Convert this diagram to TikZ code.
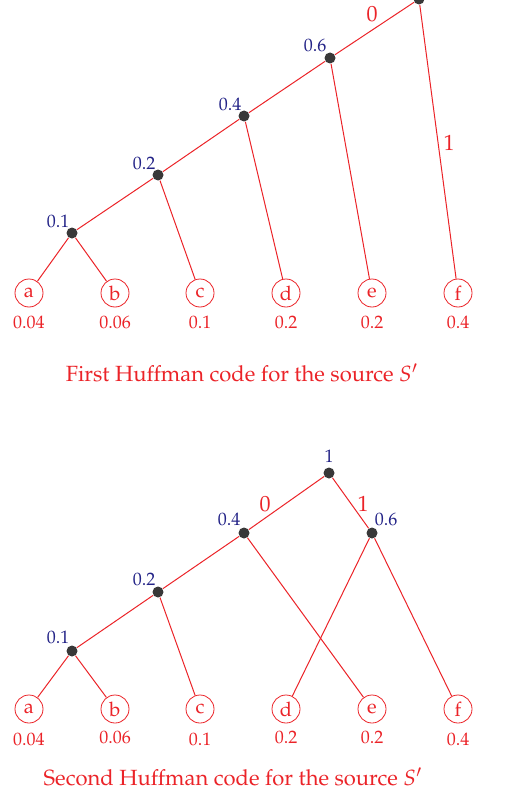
\documentclass[tikz,border=0pt]{standalone}
\usepackage[T1]{fontenc}
\usepackage{mathpazo}
\definecolor{edgered}{RGB}{235,35,40}
\definecolor{wtblue}{RGB}{35,35,135}
\tikzset{
  leaf/.style={circle, draw=edgered, text=edgered, inner sep=0pt, minimum size=14pt},
  dot/.style={circle, fill=black!78, inner sep=0pt, minimum size=5.5pt},
  prob/.style={text=edgered, font=\small},
  wt/.style={text=wtblue, font=\small},
  bit/.style={text=edgered, font=\fontsize{11}{13}\selectfont},
  edge/.style={edgered, line width=0.5pt},
  capt/.style={text=edgered, font=\fontsize{11}{13}\selectfont}
}
\begin{document}
\begin{tikzpicture}[x=0.5pt,y=-0.5pt]
  \useasboundingbox (0,0) rectangle (527,808);
  % First tree
  \begin{scope}[shift={(0,0)}]
    \node[leaf] (a1) at (29,293) {a};
    \node[leaf] (b1) at (115,293) {b};
    \node[leaf] (c1) at (200,293) {c};
    \node[leaf] (d1) at (286,293) {d};
    \node[leaf] (e1) at (372,293) {e};
    \node[leaf] (f1) at (458,293) {f};
    \node[prob] (pa1) at (29,322) {0.04};
    \node[prob] (pb1) at (115,322) {0.06};
    \node[prob] (pc1) at (200,322) {0.1};
    \node[prob] (pd1) at (286,322) {0.2};
    \node[prob] (pe1) at (372,322) {0.2};
    \node[prob] (pf1) at (458,322) {0.4};
    \node[dot] (ab1) at (72,233) {};
    \node[dot] (abc1) at (158,175) {};
    \node[dot] (abcd1) at (244,116) {};
    \node[dot] (abcde1) at (330,58) {};
    \node[dot] (root1) at (419,-1) {};
    \draw[edge] (ab1) -- (a1);
    \draw[edge] (ab1) -- (b1);
    \draw[edge] (abc1) -- (c1);
    \draw[edge] (abcd1) -- (d1);
    \draw[edge] (abcde1) -- (e1);
    \draw[edge] (root1) -- (f1);
    \draw[edge] (ab1) -- (abc1) -- (abcd1) -- (abcde1) -- (root1);
    \node[wt] (w11) at (58,221) {0.1};
    \node[wt] (w12) at (144,163) {0.2};
    \node[wt] (w13) at (230,104) {0.4};
    \node[wt] (w14) at (315,45) {0.6};
    \node[bit] (z1) at (372,14) {0};
    \node[bit] (o1) at (449,143) {1};
    % Label below
    \node[capt] (cap1) at (242,373) {First Huffman code for the source $S'$};
  \end{scope}
  % Second tree
  \begin{scope}[shift={(0,417)}]
    \node[leaf] (a2) at (29,292) {a};
    \node[leaf] (b2) at (115,292) {b};
    \node[leaf] (c2) at (200,292) {c};
    \node[leaf] (d2) at (286,292) {d};
    \node[leaf] (e2) at (372,292) {e};
    \node[leaf] (f2) at (458,292) {f};
    \node[prob] (pa2) at (29,322) {0.04};
    \node[prob] (pb2) at (115,320) {0.06};
    \node[prob] (pc2) at (200,322) {0.1};
    \node[prob] (pd2) at (286,320) {0.2};
    \node[prob] (pe2) at (372,320) {0.2};
    \node[prob] (pf2) at (458,322) {0.4};
    \node[dot] (ab2) at (72,234) {};
    \node[dot] (abc2) at (158,175) {};
    \node[dot] (abce2) at (244,116) {};
    \node[dot] (df2) at (372,116) {};
    \node[dot] (root2) at (329,56) {};
    \draw[edge] (ab2) -- (a2);
    \draw[edge] (ab2) -- (b2);
    \draw[edge] (abc2) -- (c2);
    \draw[edge] (abce2) -- (e2);
    \draw[edge] (df2) -- (d2);
    \draw[edge] (df2) -- (f2);
    \draw[edge] (ab2) -- (abc2) -- (abce2) -- (root2) -- (df2);
    \node[wt] (w21) at (58,220) {0.1};
    \node[wt] (w22) at (144,162) {0.2};
    \node[wt] (w23) at (229,102) {0.4};
    \node[wt] (w24) at (386,102) {0.6};
    \node[wt] (w25) at (329,39) {1};
    \node[bit] (z2) at (265,87) {0};
    \node[bit] (o2) at (363,87) {1};
    % Label below
    \node[capt] (cap2) at (233,360) {Second Huffman code for the source $S'$};
  \end{scope}
\end{tikzpicture}
\end{document}
